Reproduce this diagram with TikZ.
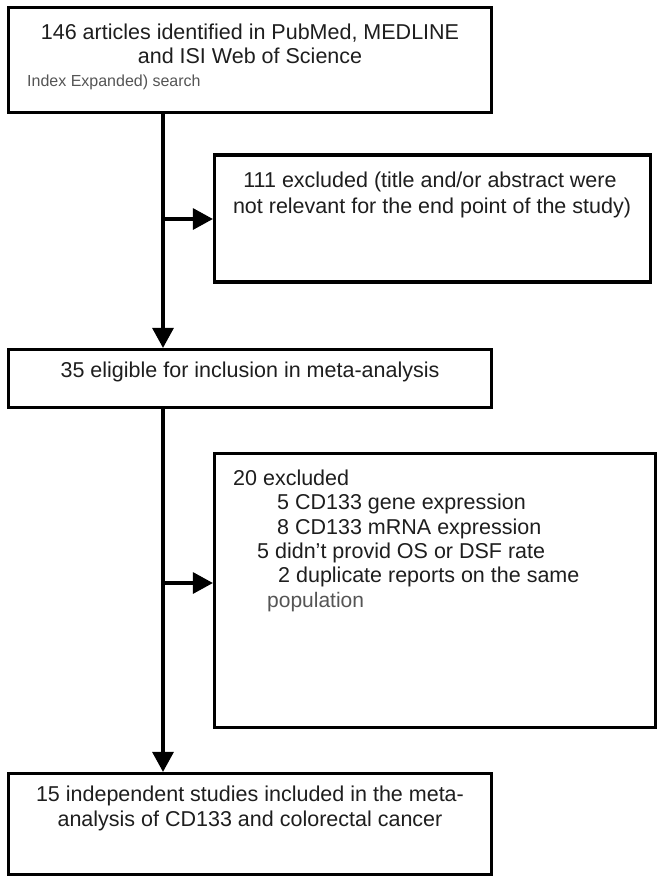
\documentclass[tikz,border=0pt]{standalone}
\usepackage{fontspec}
\setmainfont{Liberation Sans}
\usetikzlibrary{arrows.meta}
\definecolor{txtc}{HTML}{1E1E1E}
\definecolor{grayc}{HTML}{555555}
\begin{document}
\begin{tikzpicture}[x=1pt,y=-1pt,
  box/.style={draw=black, line width=3.2pt, rectangle, inner sep=0pt, fill=white},
  txt/.style={inner sep=0pt, text=txtc, font=\fontsize{21.5}{25}\selectfont},
  smalltxt/.style={inner sep=0pt, text=grayc, font=\fontsize{16}{19}\selectfont},
  graytxt/.style={inner sep=0pt, text=grayc, font=\fontsize{21}{25}\selectfont},
  conn/.style={draw=black, line width=3.2pt, -{Triangle[length=20pt,width=21pt]}},
  trunk/.style={draw=black, line width=3.2pt}
]
\useasboundingbox (0,0) rectangle (664,884);
\fill[white] (0,0) rectangle (664,884);

% boxes
\node[box, line width=3.6pt, minimum width=483pt, minimum height=105pt] (b1) at (250,60) {};
\node[box, minimum width=436pt, minimum height=127pt] (b2) at (432.5,218.5) {};
\node[box, minimum width=483pt, minimum height=58pt] (b3) at (250,378.5) {};
\node[box, minimum width=441pt, minimum height=274pt] (b4) at (435,590.5) {};
\node[box, minimum width=483pt, minimum height=101pt] (b5) at (250,824) {};

% texts
\node[txt, anchor=base] (t1a) at (250,39.5) {146 articles identified in PubMed, MEDLINE};
\node[txt, anchor=base] (t1b) at (250,63) {and ISI Web of Science};
\node[smalltxt, anchor=base west] (t1c) at (27,86) {Index Expanded) search};

\node[txt, anchor=base] (t2a) at (430,187.5) {111 excluded (title and/or abstract were};
\node[txt, anchor=base] (t2b) at (432,213.5) {not relevant for the end point of the study)};

\node[txt, anchor=base] (t3) at (250,377.7) {35 eligible for inclusion in meta-analysis};

\node[txt, anchor=base west] (t4a) at (233,485) {20 excluded};
\node[txt, anchor=base west] (t4b) at (277,509.3) {5 CD133 gene expression};
\node[txt, anchor=base west] (t4c) at (277,534) {8 CD133 mRNA expression};
\node[txt, anchor=base west] (t4d) at (257,558.3) {5 didn’t provid OS or DSF rate};
\node[txt, anchor=base west] (t4e) at (278,582.7) {2 duplicate reports on the same};
\node[graytxt, anchor=base west] (t4f) at (267,607.3) {population};

\node[txt, anchor=base] (t5a) at (250,801.7) {15 independent studies included in the meta-};
\node[txt, anchor=base] (t5b) at (250,826.7) {analysis of CD133 and colorectal cancer};

% connectors
\coordinate (tx) at (163,0);
\coordinate (j1) at (163,219);
\coordinate (j2) at (163,583);
\draw[conn] (b1.south -| tx) -- (b3.north -| tx);
\draw[conn] (b3.south -| tx) -- (b5.north -| tx);
\draw[conn] (j1) -- (j1 -| b2.west);
\draw[conn] (j2) -- (j2 -| b4.west);
\end{tikzpicture}
\end{document}
